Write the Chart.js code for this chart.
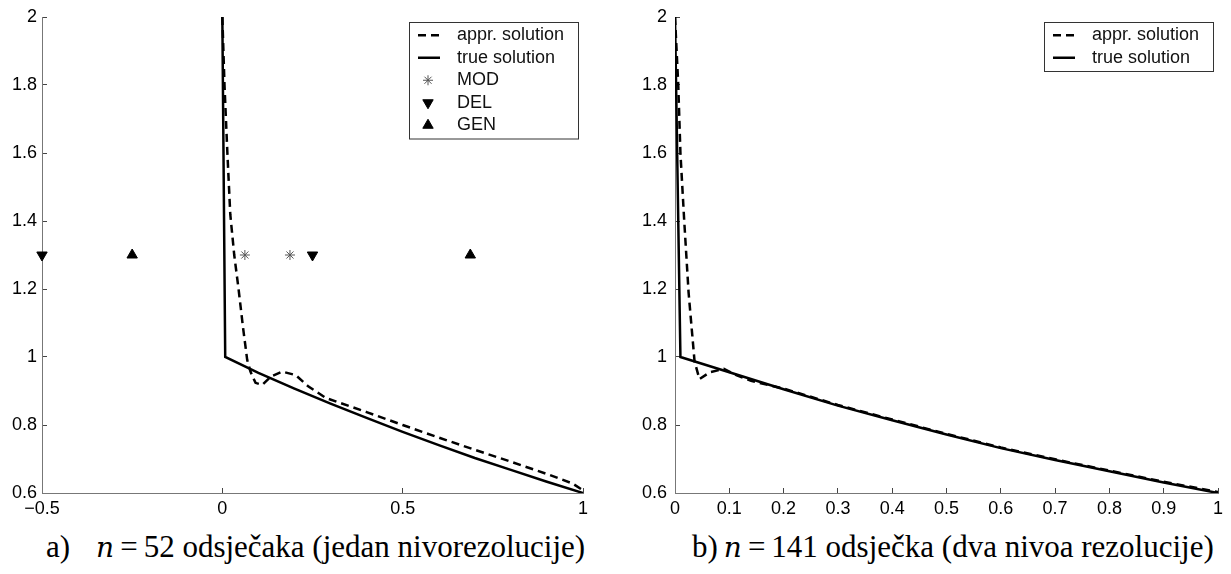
<!DOCTYPE html>
<html>
<head>
<meta charset="utf-8">
<script src="https://cdn.jsdelivr.net/npm/chart.js@4.4.0/dist/chart.umd.min.js"></script>
<style>
    body { margin: 0; width: 1231px; height: 574px; background: #fff; position: relative; overflow: hidden; }
    .wrap { position: absolute; top: 0; height: 525px; }
    #wrapA { left: 0; width: 600px; }
    #wrapB { left: 620px; width: 611px; }
    .cap { position: absolute; top: 531px; font-family: "Liberation Serif", "Times New Roman", serif; font-size: 31px; line-height: 31px; color: #000; white-space: nowrap; }
    .cap i { font-family: "DejaVu Serif", "Liberation Serif", serif; font-size: 28px; }
    .cap .eq { margin: 0 6px; }
    #capA { left: 46px; }
    #capB { left: 692px; }
</style>
</head>
<body>
<div class="wrap" id="wrapA"><canvas id="chartA"></canvas></div>
<div class="wrap" id="wrapB"><canvas id="chartB"></canvas></div>
<div class="cap" id="capA">a)<span style="margin-left:26px"></span><i>n</i><span class="eq">=</span>52 odsječaka (jedan nivorezolucije)</div>
<div class="cap" id="capB">b)<span style="margin-left:6px"></span><i>n</i><span class="eq">=</span>141 odsječka (dva nivoa rezolucije)</div>

<script>
// axis ticks
const yTicks = [0.6, 0.8, 1, 1.2, 1.4, 1.6, 1.8, 2];
const yTickLabels = ['0.6', '0.8', '1', '1.2', '1.4', '1.6', '1.8', '2'];
const xTicksA = [-0.5, 0, 0.5, 1];
const xTickLabelsA = ['\u22120.5', '0', '0.5', '1'];
const xTicksB = [0, 0.1, 0.2, 0.3, 0.4, 0.5, 0.6, 0.7, 0.8, 0.9, 1];
const xTickLabelsB = ['0', '0.1', '0.2', '0.3', '0.4', '0.5', '0.6', '0.7', '0.8', '0.9', '1'];

// a) one resolution level
const apprAX = [0, 0.006, 0.014, 0.022, 0.033, 0.045, 0.057, 0.069, 0.078, 0.092, 0.111, 0.134, 0.166, 0.203, 0.239, 0.288, 0.4, 0.5, 0.6, 0.7, 0.8, 0.9, 0.971, 1];
const apprAY = [2, 1.8, 1.6, 1.42, 1.3, 1.2, 1.09, 0.991, 0.957, 0.924, 0.918, 0.942, 0.957, 0.947, 0.913, 0.879, 0.838, 0.800, 0.763, 0.727, 0.692, 0.656, 0.628, 0.608];
const trueAX = [0, 0.008, 0.1, 0.2, 0.3, 0.4, 0.5, 0.6, 0.7, 0.8, 0.9, 1];
const trueAY = [2, 1.0, 0.953, 0.907, 0.863, 0.821, 0.78, 0.741, 0.703, 0.668, 0.633, 0.6];
const markerY = 1.3;
const modX = [0.0625, 0.1875];
const delX = [-0.5, 0.25];
const genX = [-0.25, 0.6875];

// b) two resolution levels
const apprBX = [0, 0.006, 0.01, 0.017, 0.025, 0.036, 0.045, 0.064, 0.09, 0.115, 0.14, 0.2, 0.3, 0.4, 0.5, 0.6, 0.7, 0.8, 0.9, 1];
const apprBY = [2, 1.8, 1.6, 1.4, 1.19, 0.987, 0.935, 0.955, 0.965, 0.945, 0.93, 0.907, 0.859, 0.816, 0.774, 0.734, 0.699, 0.666, 0.633, 0.603];
const trueBX = [0, 0.01, 0.1, 0.2, 0.3, 0.4, 0.5, 0.6, 0.7, 0.8, 0.9, 1];
const trueBY = [2, 1.0, 0.955, 0.905, 0.857, 0.814, 0.772, 0.732, 0.697, 0.664, 0.631, 0.6];

const pts = (xs, ys) => xs.map((x, i) => ({ x: x, y: ys[i] }));
const row = (xs, y) => xs.map(x => ({ x: x, y: y }));

Chart.defaults.font.family = '"Liberation Sans", Arial, sans-serif';
Chart.defaults.font.size = 18;
Chart.defaults.color = '#000';

// boxed legend in the upper right corner of the plot
const boxLegend = {
    id: 'boxLegend',
    afterDraw(chart) {
        const ctx = chart.ctx;
        const area = chart.chartArea;
        const items = chart.data.datasets;
        const w = 169, rowH = 22.5;
        const h = items.length * rowH + 4;
        const x0 = Math.round(area.right - 5 - w);
        const y0 = Math.round(area.top + 5);
        ctx.save();
        ctx.fillStyle = '#fff';
        ctx.fillRect(x0, y0, w, h);
        ctx.strokeStyle = '#333';
        ctx.lineWidth = 1;
        ctx.strokeRect(x0 + 0.5, y0 + 0.5, w, h);
        ctx.font = '18px "Liberation Sans", Arial, sans-serif';
        ctx.textBaseline = 'middle';
        items.forEach((ds, i) => {
            const cy = y0 + 2 + rowH * (i + 0.5);
            if (ds.showLine) {
                ctx.save();
                ctx.strokeStyle = ds.borderColor;
                ctx.lineWidth = ds.borderWidth;
                ctx.setLineDash(ds.borderDash || []);
                ctx.beginPath();
                ctx.moveTo(x0 + 9, cy);
                ctx.lineTo(x0 + 31, cy);
                ctx.stroke();
                ctx.restore();
            } else {
                ctx.save();
                ctx.strokeStyle = ds.borderColor;
                ctx.fillStyle = ds.backgroundColor;
                ctx.lineWidth = ds.borderWidth;
                Chart.helpers.drawPoint(ctx, {
                    pointStyle: ds.pointStyle,
                    rotation: ds.rotation || 0,
                    radius: ds.pointRadius,
                    borderWidth: ds.borderWidth
                }, x0 + 19, cy);
                ctx.restore();
            }
            ctx.fillStyle = '#111';
            ctx.fillText(ds.label, x0 + 48, cy);
        });
        ctx.restore();
    }
};

function makeScales(xTicks, xLabels, yWidth, yPad) {
    return {
        x: {
            type: 'linear',
            min: xTicks[0],
            max: xTicks[xTicks.length - 1],
            afterBuildTicks: s => { s.ticks = xTicks.map(v => ({ value: v })); },
            afterFit: s => { s.height = 32; s.paddingLeft = 0; s.paddingRight = 0; },
            ticks: { autoSkip: false, maxRotation: 0, padding: 10, callback: (v, i) => xLabels[i] },
            grid: { drawOnChartArea: false, tickLength: -5, tickColor: '#444' },
            border: { color: '#777', width: 1 }
        },
        y: {
            type: 'linear',
            min: 0.6,
            max: 2,
            afterBuildTicks: s => { s.ticks = yTicks.map(v => ({ value: v })); },
            afterFit: s => { s.width = yWidth; s.paddingTop = 0; s.paddingBottom = 0; },
            ticks: { padding: yPad, callback: (v, i) => yTickLabels[i] },
            grid: { drawOnChartArea: false, tickLength: -5, tickColor: '#444' },
            border: { color: '#777', width: 1 }
        }
    };
}

function lineSet(label, data, dash) {
    return {
        label: label,
        data: data,
        showLine: true,
        borderColor: '#000',
        borderWidth: 2.5,
        borderDash: dash,
        pointRadius: 0,
        tension: 0
    };
}

function markerSet(label, data, style, rotation, radius, color) {
    return {
        label: label,
        data: data,
        showLine: false,
        pointStyle: style,
        rotation: rotation,
        pointRadius: radius,
        borderWidth: 1,
        borderColor: color,
        backgroundColor: color,
        clip: false
    };
}

const baseOptions = {
    responsive: true,
    maintainAspectRatio: false,
    animation: false,
    events: [],
    plugins: { legend: { display: false }, tooltip: { enabled: false } }
};

new Chart(document.getElementById('chartA'), {
    type: 'scatter',
    data: {
        datasets: [
            lineSet('appr. solution', pts(apprAX, apprAY), [8, 5]),
            lineSet('true solution', pts(trueAX, trueAY), []),
            markerSet('MOD', row(modX, markerY), 'star', 0, 5, '#555'),
            markerSet('DEL', row(delX, markerY), 'triangle', 180, 6, '#000'),
            markerSet('GEN', row(genX, markerY), 'triangle', 0, 6, '#000')
        ]
    },
    options: Object.assign({}, baseOptions, {
        layout: { padding: { top: 17, right: 17, left: 0, bottom: 0 } },
        scales: makeScales(xTicksA, xTickLabelsA, 42, 10)
    }),
    plugins: [boxLegend]
});

new Chart(document.getElementById('chartB'), {
    type: 'scatter',
    data: {
        datasets: [
            lineSet('appr. solution', pts(apprBX, apprBY), [8, 5]),
            lineSet('true solution', pts(trueBX, trueBY), [])
        ]
    },
    options: Object.assign({}, baseOptions, {
        layout: { padding: { top: 17, right: 13, left: 0, bottom: 0 } },
        scales: makeScales(xTicksB, xTickLabelsB, 55, 13)
    }),
    plugins: [boxLegend]
});
</script>
</body>
</html>
